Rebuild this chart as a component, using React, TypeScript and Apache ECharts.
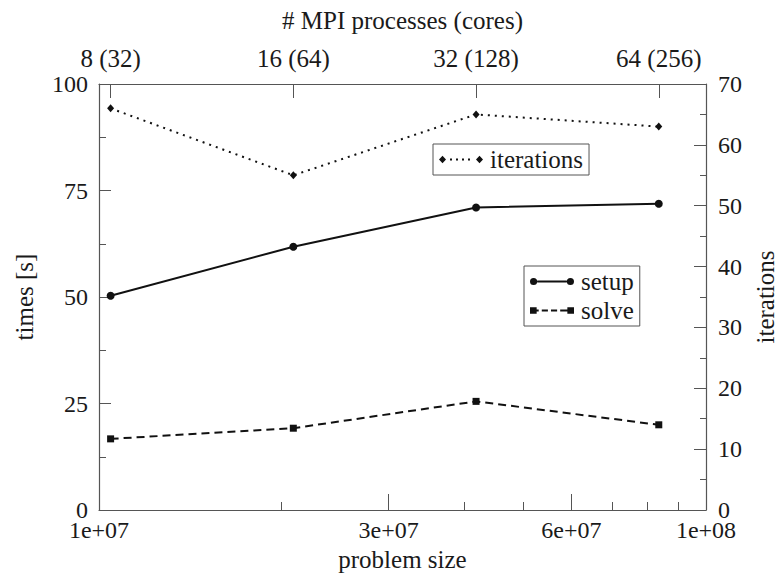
import React, { useEffect, useRef } from "react";
import * as echarts from "echarts";

// Problem sizes (unknowns) and the MPI layout used for each run
const problemSizes = [1.045e7, 2.09e7, 4.18e7, 8.36e7];
const processLabels = ["8 (32)", "16 (64)", "32 (128)", "64 (256)"];

// Timings in seconds
const setupTimes = [50.3, 61.8, 71.0, 71.9];
const solveTimes = [16.7, 19.2, 25.5, 20.0];

// Solver iterations (right axis)
const iterations = [66, 55, 65, 63];

// Bottom axis labels and tick positions
const sizeLabelValues = [1e7, 3e7, 6e7, 1e8];
const sizeLabelTexts = ["1e+07", "3e+07", "6e+07", "1e+08"];
const sizeMinorTicks = [2e7, 4e7, 5e7, 7e7, 8e7, 9e7];
const sizeMajorTicks = [3e7, 6e7];

const FONT = "Liberation Serif";
const TEXT = "#1a1a1a";
const AXIS = "#555";
const INK = "#111";

const nearestIndex = (list: number[], v: number) => {
  let best = 0;
  for (let i = 1; i < list.length; i++) {
    if (Math.abs(Math.log10(list[i]) - Math.log10(v)) < Math.abs(Math.log10(list[best]) - Math.log10(v))) best = i;
  }
  return best;
};

// Legend keys: line segment with a marker at each end
const iterIcon =
  "path://M0 4L3.5 0.2L7 4L3.5 7.8ZM11 3h2v2h-2ZM17 3h2v2h-2ZM23 3h2v2h-2ZM29 3h2v2h-2ZM37 4L40.5 0.2L44 4L40.5 7.8Z";
const setupIcon =
  "path://M0.5 4a3.5 3.5 0 1 0 7 0a3.5 3.5 0 1 0 -7 0ZM7.5 3h29v2h-29ZM36.5 4a3.5 3.5 0 1 0 7 0a3.5 3.5 0 1 0 -7 0Z";
const solveIcon =
  "path://M0.5 0.8h6.5v6.5h-6.5ZM7 3h2v2h-2ZM12 3h6v2h-6ZM21 3h6v2h-6ZM30 3h7v2h-7ZM37 0.8h6.5v6.5h-6.5Z";

export default function App() {
  const ref = useRef<HTMLDivElement>(null);

  useEffect(() => {
    if (!ref.current) return;
    const chart = echarts.init(ref.current, undefined, { renderer: "svg" });

    const tickText = { fontFamily: FONT, fontSize: 24, color: TEXT };
    const nameText = { fontFamily: FONT, fontSize: 25, color: TEXT };

    const logAxisBase = {
      type: "log" as const,
      logBase: 10,
      min: 1e7,
      max: 1e8,
      splitLine: { show: false },
      minorSplitLine: { show: false },
    };

    chart.setOption({
      animation: false,
      backgroundColor: "#fff",
      textStyle: { fontFamily: FONT },
      grid: {
        left: 99,
        right: 76,
        top: 84,
        bottom: 64,
        containLabel: false,
        outerBoundsMode: "none",
      },
      xAxis: [
        {
          ...logAxisBase,
          position: "bottom",
          axisLine: { show: true, onZero: false, lineStyle: { color: AXIS, width: 1.2 } },
          axisTick: {
            show: true,
            inside: true,
            length: 8,
            customValues: sizeMinorTicks,
            lineStyle: { color: AXIS, width: 1 },
          },
          axisLabel: {
            ...tickText,
            margin: 8,
            customValues: sizeLabelValues,
            formatter: (v: number) => sizeLabelTexts[nearestIndex(sizeLabelValues, v)],
          },
          name: "problem size",
          nameLocation: "middle",
          nameGap: 34,
          nameTextStyle: nameText,
        },
        {
          ...logAxisBase,
          position: "top",
          axisLine: { show: true, onZero: false, lineStyle: { color: AXIS, width: 1.2 } },
          axisTick: {
            show: true,
            inside: true,
            length: 14,
            customValues: problemSizes,
            lineStyle: { color: AXIS, width: 1 },
          },
          axisLabel: {
            ...tickText,
            fontSize: 25,
            margin: 13,
            customValues: problemSizes,
            formatter: (v: number) => processLabels[nearestIndex(problemSizes, v)],
          },
          name: "# MPI processes (cores)",
          nameLocation: "middle",
          nameGap: 51,
          nameTextStyle: nameText,
        },
        {
          // longer ticks at the labelled sizes
          ...logAxisBase,
          position: "bottom",
          axisLine: { show: false, onZero: false },
          axisTick: {
            show: true,
            inside: true,
            length: 16,
            customValues: sizeMajorTicks,
            lineStyle: { color: AXIS, width: 1 },
          },
          axisLabel: { show: false },
        },
      ],
      yAxis: [
        {
          type: "value",
          position: "left",
          min: 0,
          max: 100,
          interval: 25,
          splitLine: { show: false },
          axisLine: { show: true, onZero: false, lineStyle: { color: AXIS, width: 1.2 } },
          axisTick: { show: true, inside: true, length: 12, lineStyle: { color: AXIS, width: 1 } },
          minorTick: { show: true, splitNumber: 2, length: 7, lineStyle: { color: AXIS, width: 1 } },
          axisLabel: { ...tickText, margin: 11 },
          name: "times [s]",
          nameLocation: "middle",
          nameGap: 62,
          nameRotate: 90,
          nameTextStyle: nameText,
        },
        {
          type: "value",
          position: "right",
          min: 0,
          max: 70,
          interval: 10,
          splitLine: { show: false },
          axisLine: { show: true, onZero: false, lineStyle: { color: AXIS, width: 1.2 } },
          axisTick: { show: true, inside: true, length: 12, lineStyle: { color: AXIS, width: 1 } },
          minorTick: { show: true, splitNumber: 2, length: 6, lineStyle: { color: AXIS, width: 1 } },
          axisLabel: { ...tickText, margin: 12 },
          name: "iterations",
          nameLocation: "middle",
          nameGap: 45,
          nameRotate: 90,
          nameTextStyle: nameText,
        },
      ],
      legend: [
        {
          data: [{ name: "iterations", icon: iterIcon }],
          left: 433,
          top: 144,
          orient: "vertical",
          itemWidth: 44,
          itemHeight: 8,
          padding: [3, 6, 3, 6],
          borderColor: AXIS,
          borderWidth: 1,
          textStyle: { ...nameText, padding: [0, 0, 0, 2] },
          selectedMode: false,
        },
        {
          data: [
            { name: "setup", icon: setupIcon },
            { name: "solve", icon: solveIcon },
          ],
          left: 524,
          top: 266,
          orient: "vertical",
          itemWidth: 44,
          itemHeight: 8,
          itemGap: 4,
          padding: [3, 6, 3, 6],
          borderColor: AXIS,
          borderWidth: 1,
          textStyle: { ...nameText, padding: [0, 0, 0, 2] },
          selectedMode: false,
        },
      ],
      series: [
        {
          name: "setup",
          type: "line",
          xAxisIndex: 0,
          yAxisIndex: 0,
          data: problemSizes.map((s, i) => [s, setupTimes[i]]),
          symbol: "circle",
          symbolSize: 8,
          lineStyle: { color: INK, width: 2 },
          itemStyle: { color: INK },
          color: INK,
        },
        {
          name: "solve",
          type: "line",
          xAxisIndex: 0,
          yAxisIndex: 0,
          data: problemSizes.map((s, i) => [s, solveTimes[i]]),
          symbol: "rect",
          symbolSize: 7,
          lineStyle: { color: INK, width: 2, type: [8, 5] },
          itemStyle: { color: INK },
          color: INK,
        },
        {
          name: "iterations",
          type: "line",
          xAxisIndex: 0,
          yAxisIndex: 1,
          data: problemSizes.map((s, i) => [s, iterations[i]]),
          symbol: "diamond",
          symbolSize: [7, 8],
          lineStyle: { color: INK, width: 2, type: [2, 5] },
          itemStyle: { color: INK },
          color: INK,
        },
      ],
    });

    return () => chart.dispose();
  }, []);

  return (
    <div
      ref={ref}
      style={{ position: "fixed", left: 0, top: 0, width: 782, height: 574, background: "#fff" }}
    />
  );
}
